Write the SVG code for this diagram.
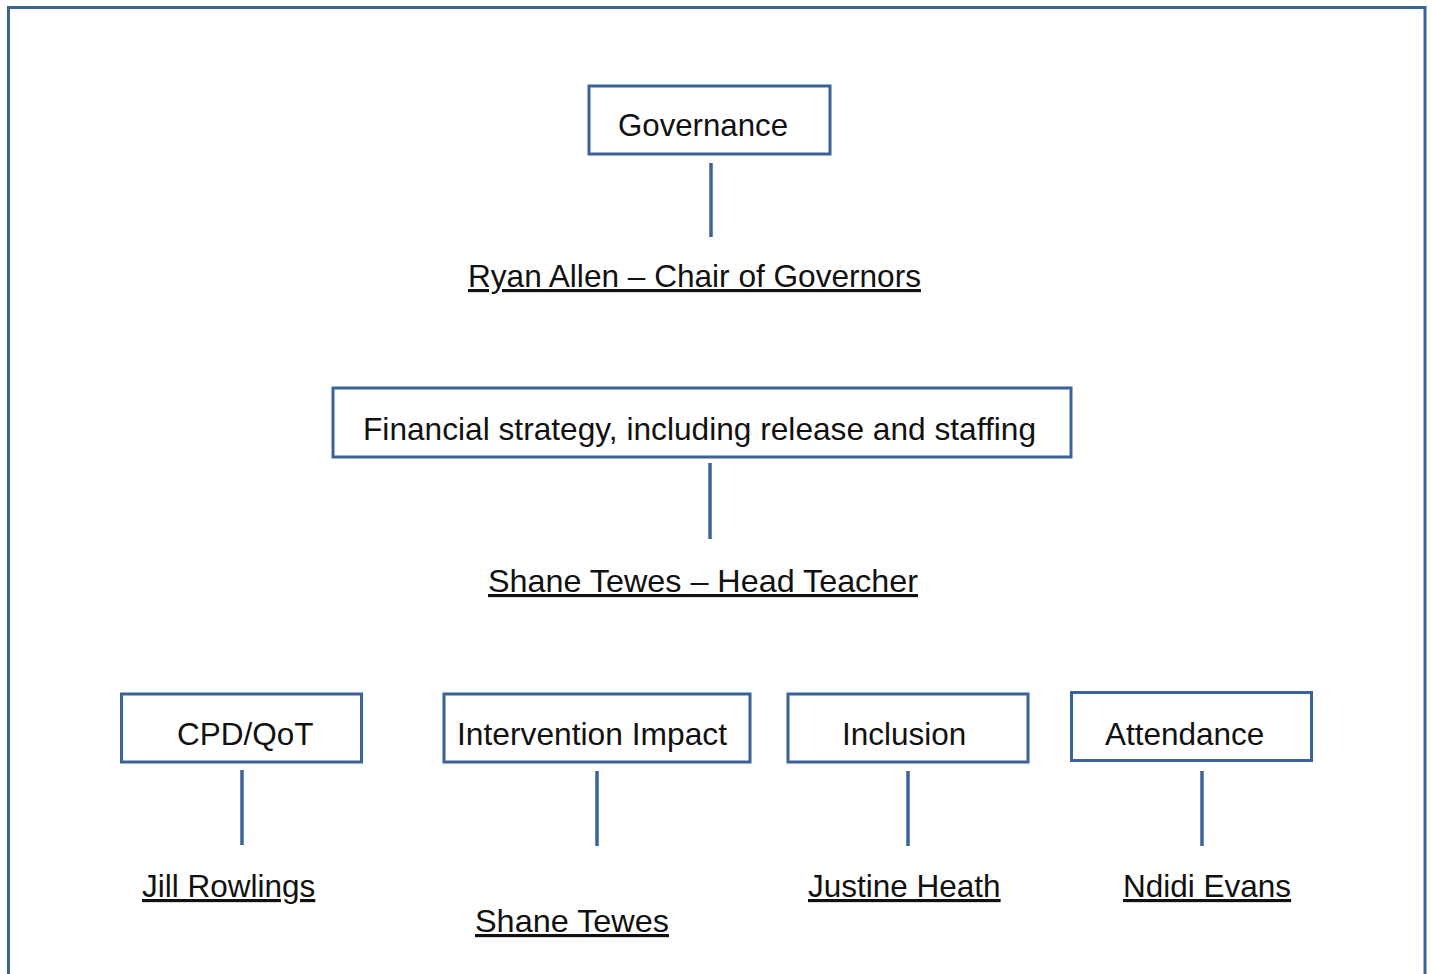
<svg xmlns="http://www.w3.org/2000/svg" width="1432" height="974" viewBox="0 0 1432 974">
<style>
.box{fill:#fff;stroke:#3B6398;stroke-width:3}
.ln{stroke:#3B6398;stroke-width:3.5;fill:none}
text{font-family:"Liberation Sans",Arial,sans-serif;font-size:31.5px;fill:#111}
.u{text-decoration:underline}
</style>
<rect x="0" y="0" width="1432" height="974" fill="#fff"/>
<path d="M8.5,980 V7.5 H1425 V980" fill="none" stroke="#3B6398" stroke-width="3"/>
<g id="connectors">
<line class="ln" x1="711" y1="163" x2="711" y2="237"/>
<line class="ln" x1="710" y1="463" x2="710" y2="539"/>
<line class="ln" x1="242" y1="770" x2="242" y2="845"/>
<line class="ln" x1="597" y1="771" x2="597" y2="846"/>
<line class="ln" x1="908" y1="771" x2="908" y2="846"/>
<line class="ln" x1="1202" y1="771" x2="1202" y2="846"/>
</g>
<g id="governance"><rect class="box" x="589" y="86" width="241" height="68"/><text x="618" y="136" textLength="170" lengthAdjust="spacingAndGlyphs">Governance</text></g>
<g id="ryan"><text class="u" x="468" y="287" textLength="453" lengthAdjust="spacingAndGlyphs">Ryan Allen – Chair of Governors</text></g>
<g id="financial"><rect class="box" x="333" y="388" width="738" height="69"/><text x="363" y="440" textLength="673" lengthAdjust="spacingAndGlyphs">Financial strategy, including release and staffing</text></g>
<g id="shane-head"><text class="u" x="488" y="592" textLength="430" lengthAdjust="spacingAndGlyphs">Shane Tewes – Head Teacher</text></g>
<g id="cpd"><rect class="box" x="121.5" y="694" width="240" height="68"/><text x="177" y="745">CPD/QoT</text></g>
<g id="jill"><text class="u" x="142" y="897">Jill Rowlings</text></g>
<g id="intervention"><rect class="box" x="444" y="694" width="306" height="68"/><text x="457" y="745" textLength="270" lengthAdjust="spacingAndGlyphs">Intervention Impact</text></g>
<g id="shane"><text class="u" x="475" y="932" textLength="194" lengthAdjust="spacingAndGlyphs">Shane Tewes</text></g>
<g id="inclusion"><rect class="box" x="788" y="694" width="240" height="68"/><text x="842" y="745">Inclusion</text></g>
<g id="justine"><text class="u" x="808" y="897">Justine Heath</text></g>
<g id="attendance"><rect class="box" x="1071.5" y="692.5" width="240" height="68"/><text x="1105" y="745">Attendance</text></g>
<g id="ndidi"><text class="u" x="1123" y="897">Ndidi Evans</text></g>
</svg>
